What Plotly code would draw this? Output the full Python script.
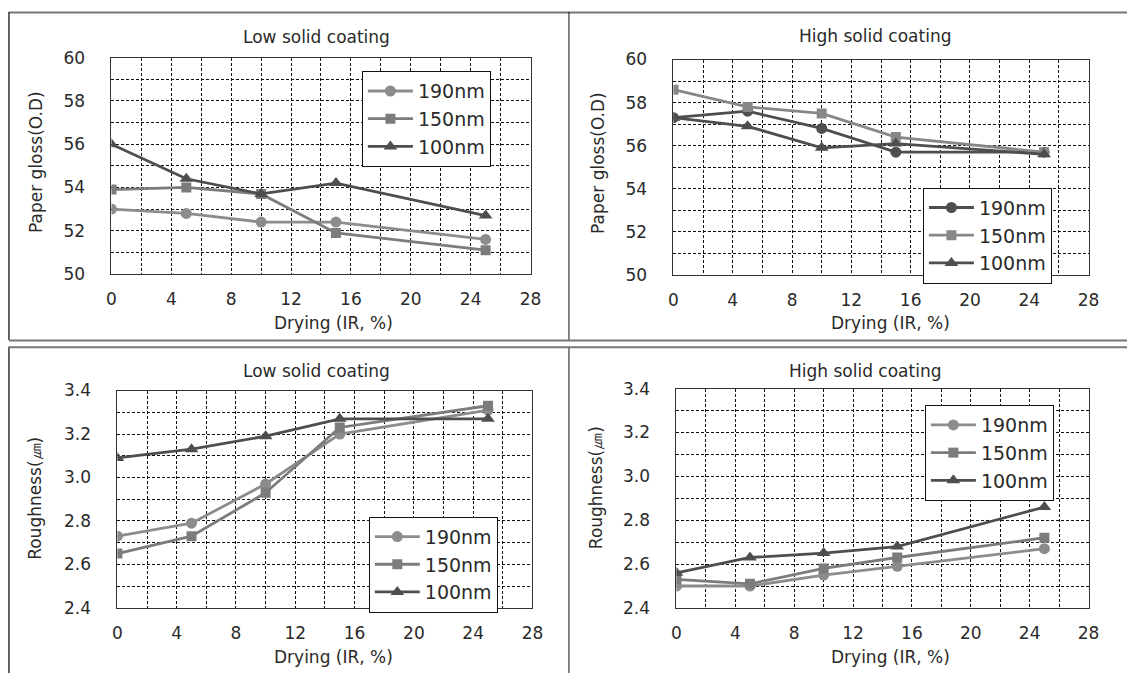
import plotly.graph_objects as go

W, H = 1138, 683

# ---------------- data ----------------
drying = [0, 5, 10, 15, 25]
series_names = ["190nm", "150nm", "100nm"]

gloss_low_190 = [53.0, 52.8, 52.4, 52.4, 51.6]
gloss_low_150 = [53.9, 54.0, 53.7, 51.9, 51.1]
gloss_low_100 = [56.0, 54.4, 53.7, 54.2, 52.7]

gloss_high_190 = [57.3, 57.6, 56.8, 55.7, 55.7]
gloss_high_150 = [58.6, 57.8, 57.5, 56.4, 55.7]
gloss_high_100 = [57.3, 56.9, 55.9, 56.1, 55.6]

rough_low_190 = [2.73, 2.79, 2.97, 3.20, 3.31]
rough_low_150 = [2.65, 2.73, 2.93, 3.23, 3.33]
rough_low_100 = [3.09, 3.13, 3.19, 3.27, 3.27]

rough_high_190 = [2.50, 2.50, 2.55, 2.59, 2.67]
rough_high_150 = [2.53, 2.51, 2.58, 2.63, 2.72]
rough_high_100 = [2.56, 2.63, 2.65, 2.68, 2.86]

panel_titles = ["Low solid coating", "High solid coating", "Low solid coating", "High solid coating"]
x_title = "Drying (IR, %)"
y_titles = ["Paper gloss(O.D)", "Paper gloss(O.D)", "Roughness(㎛)", "Roughness(㎛)"]
x_ticks = [0, 4, 8, 12, 16, 20, 24, 28]
gloss_ticks = [50, 52, 54, 56, 58, 60]
rough_ticks = [2.4, 2.6, 2.8, 3.0, 3.2, 3.4]

# ---------------- styles ----------------
FONT = "DejaVu Sans"
TXT = "#2a2a2a"
symbols = ["circle", "square", "triangle-up"]
msizes = [11, 10, 12]
colors = [
    ["#8c8c8c", "#7c7c7c", "#4e4e4e"],
    ["#4e4e4e", "#878787", "#4e4e4e"],
    ["#8c8c8c", "#7c7c7c", "#4e4e4e"],
    ["#8c8c8c", "#7c7c7c", "#4e4e4e"],
]

# pixel boxes of plot areas: (left, right, top, bottom)
boxes = [(108, 533, 49, 272), (678, 1099, 51, 273), (114, 535, 392, 616), (681, 1099, 390, 616)]
legend_pos = [(362, 63), (931, 183), (369, 522), (933, 407)]
title_pos = [(316, 28), (883, 27), (316, 372), (873, 372)]
xtitle_pos = [(333, 322), (898, 322), (333, 667), (898, 667)]
ytitle_pos = [(32, 157), (602, 158), (31, 503), (599, 492)]

panels = [
    ([gloss_low_190, gloss_low_150, gloss_low_100], (50, 60), gloss_ticks, 1),
    ([gloss_high_190, gloss_high_150, gloss_high_100], (50, 60), gloss_ticks, 1),
    ([rough_low_190, rough_low_150, rough_low_100], (2.4, 3.4), rough_ticks, 0.1),
    ([rough_high_190, rough_high_150, rough_high_100], (2.4, 3.4), rough_ticks, 0.1),
]

fx = lambda px: px / W
fy = lambda py: 1 - py / H

fig = go.Figure()
annotations = []
layout = dict(
    width=W, height=H, margin=dict(l=0, r=0, t=0, b=0),
    paper_bgcolor="white", plot_bgcolor="white",
    font=dict(family=FONT, size=17, color=TXT),
    showlegend=True,
)

for i, (ys, yr, yt, ymdt) in enumerate(panels):
    n = i + 1
    xa = "x" if n == 1 else f"x{n}"
    ya = "y" if n == 1 else f"y{n}"
    lg = "legend" if n == 1 else f"legend{n}"
    for j, yv in enumerate(ys):
        fig.add_trace(go.Scatter(
            x=drying, y=yv, name=series_names[j], mode="lines+markers",
            xaxis=xa, yaxis=ya, legend=lg,
            line=dict(color=colors[i][j], width=2.8),
            marker=dict(symbol=symbols[j], size=msizes[j], color=colors[i][j]),
        ))
    l, r, t, b = boxes[i]
    grid = dict(showgrid=True, gridcolor="#111", gridwidth=1, griddash="3px,2px")
    layout["xaxis" if n == 1 else f"xaxis{n}"] = dict(
        domain=[fx(l), fx(r)], anchor=ya, range=[0, 28],
        tickvals=x_ticks, ticks="", ticklabelstandoff=10,
        showline=True, mirror=True, linecolor="#333", linewidth=1,
        zeroline=False, fixedrange=True,
        minor=dict(dtick=2, tick0=0, **grid), **grid,
        tickfont=dict(size=17, color=TXT),
    )
    layout["yaxis" if n == 1 else f"yaxis{n}"] = dict(
        domain=[fy(b), fy(t)], anchor=xa, range=list(yr),
        tickvals=yt, tickformat=".1f" if yr[0] < 10 else "d",
        ticks="", ticklabelstandoff=22,
        showline=True, mirror=True, linecolor="#333", linewidth=1,
        zeroline=False, fixedrange=True,
        minor=dict(dtick=ymdt, tick0=yr[0], **grid), **grid,
        tickfont=dict(size=17, color=TXT),
    )
    lx, ly = legend_pos[i]
    layout[lg] = dict(
        x=fx(lx), y=fy(ly), xanchor="left", yanchor="top",
        bgcolor="white", bordercolor="#111", borderwidth=1,
        font=dict(size=19, color=TXT, family=FONT),
        itemwidth=45, tracegroupgap=0,
    )
    tx, ty = title_pos[i]
    annotations.append(dict(text=panel_titles[i], x=fx(tx), y=fy(ty), xref="paper", yref="paper",
                            showarrow=False, font=dict(size=17, color=TXT), xanchor="center", yanchor="middle"))
    tx, ty = xtitle_pos[i]
    annotations.append(dict(text=x_title, x=fx(tx), y=fy(ty), xref="paper", yref="paper",
                            showarrow=False, font=dict(size=17, color=TXT), xanchor="center", yanchor="middle"))
    tx, ty = ytitle_pos[i]
    annotations.append(dict(text=y_titles[i], x=fx(tx), y=fy(ty), xref="paper", yref="paper", textangle=-90,
                            showarrow=False, font=dict(size=17, color=TXT), xanchor="center", yanchor="middle"))

# table-like frame lines around the four panels
shapes = [
    dict(type="line", xref="paper", yref="paper", x0=fx(4), x1=1, y0=fy(2.5), y1=fy(2.5), line=dict(color="#777", width=2)),
    dict(type="line", xref="paper", yref="paper", x0=fx(4), x1=fx(4), y0=fy(2), y1=fy(340), line=dict(color="#333", width=1.5)),
    dict(type="line", xref="paper", yref="paper", x0=fx(4), x1=fx(4), y0=fy(347), y1=0, line=dict(color="#333", width=1.5)),
    dict(type="line", xref="paper", yref="paper", x0=fx(572), x1=fx(572), y0=fy(2), y1=fy(340), line=dict(color="#111", width=1)),
    dict(type="line", xref="paper", yref="paper", x0=fx(572), x1=fx(572), y0=fy(347), y1=0, line=dict(color="#111", width=1)),
    dict(type="line", xref="paper", yref="paper", x0=fx(4), x1=1, y0=fy(340.5), y1=fy(340.5), line=dict(color="#777", width=2)),
    dict(type="line", xref="paper", yref="paper", x0=fx(4), x1=1, y0=fy(347.5), y1=fy(347.5), line=dict(color="#777", width=2)),
]

layout["annotations"] = annotations
layout["shapes"] = shapes
fig.update_layout(**layout)
fig.write_html("out.html")
